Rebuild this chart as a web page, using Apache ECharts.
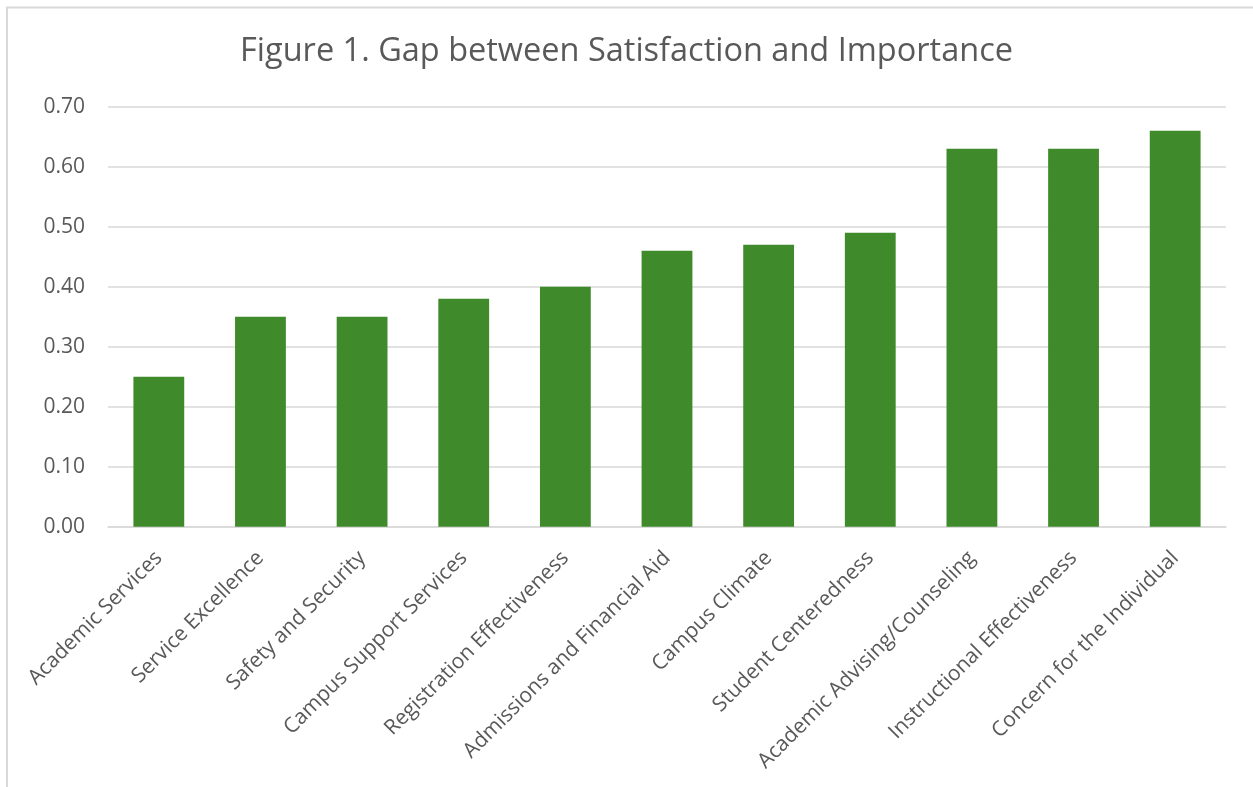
<!DOCTYPE html>
<html>
<head>
<meta charset="utf-8">
<script src="https://cdn.jsdelivr.net/npm/echarts@6/dist/echarts.min.js"></script>
<style>
  html, body { margin: 0; padding: 0; background: #fff; }
  #chart { width: 1253px; height: 787px; }
</style>
</head>
<body>
<div id="chart"></div>
<script>
// Gap scores per scale, sorted ascending
const categories = [
  'Academic Services',
  'Service Excellence',
  'Safety and Security',
  'Campus Support Services',
  'Registration Effectiveness',
  'Admissions and Financial Aid',
  'Campus Climate',
  'Student Centeredness',
  'Academic Advising/Counseling',
  'Instructional Effectiveness',
  'Concern for the Individual'
];
const gapValues = [0.25, 0.35, 0.35, 0.38, 0.40, 0.46, 0.47, 0.49, 0.63, 0.63, 0.66];
const titleText = 'Figure 1. Gap between Satisfaction and Importance';

const FONT = '"Open Sans", "Noto Sans", sans-serif';
const TEXT = '#595959';
const GRID = '#d9d9d9';

const chart = echarts.init(document.getElementById('chart'), null, { renderer: 'canvas' });
chart.setOption({
  animation: false,
  backgroundColor: '#ffffff',
  title: {
    text: titleText,
    left: 'center',
    top: 30,
    textStyle: { fontFamily: FONT, fontSize: 32.5, fontWeight: 'normal', color: TEXT }
  },
  graphic: [{
    type: 'rect',
    shape: { x: 7, y: 7.5, width: 1400, height: 900 },
    style: { fill: 'none', stroke: GRID, lineWidth: 2 },
    silent: true
  }],
  grid: { left: 108, right: 27, top: 106.7, bottom: 260.3, containLabel: false },
  xAxis: {
    type: 'category',
    data: categories,
    axisLine: { show: true, lineStyle: { color: GRID, width: 1.5 } },
    axisTick: { show: false },
    axisLabel: {
      rotate: 45,
      interval: 0,
      margin: 28,
      color: TEXT,
      fontFamily: FONT,
      fontSize: 21
    }
  },
  yAxis: {
    type: 'value',
    min: 0,
    max: 0.7,
    interval: 0.1,
    axisLine: { show: false },
    axisTick: { show: false },
    splitLine: { lineStyle: { color: GRID, width: 1.5 } },
    axisLabel: {
      formatter: v => v.toFixed(2),
      color: TEXT,
      fontFamily: FONT,
      fontSize: 21,
      margin: 23
    }
  },
  series: [{
    type: 'bar',
    data: gapValues,
    barWidth: '50%',
    itemStyle: { color: '#3f8b2b' }
  }]
});
</script>
</body>
</html>
